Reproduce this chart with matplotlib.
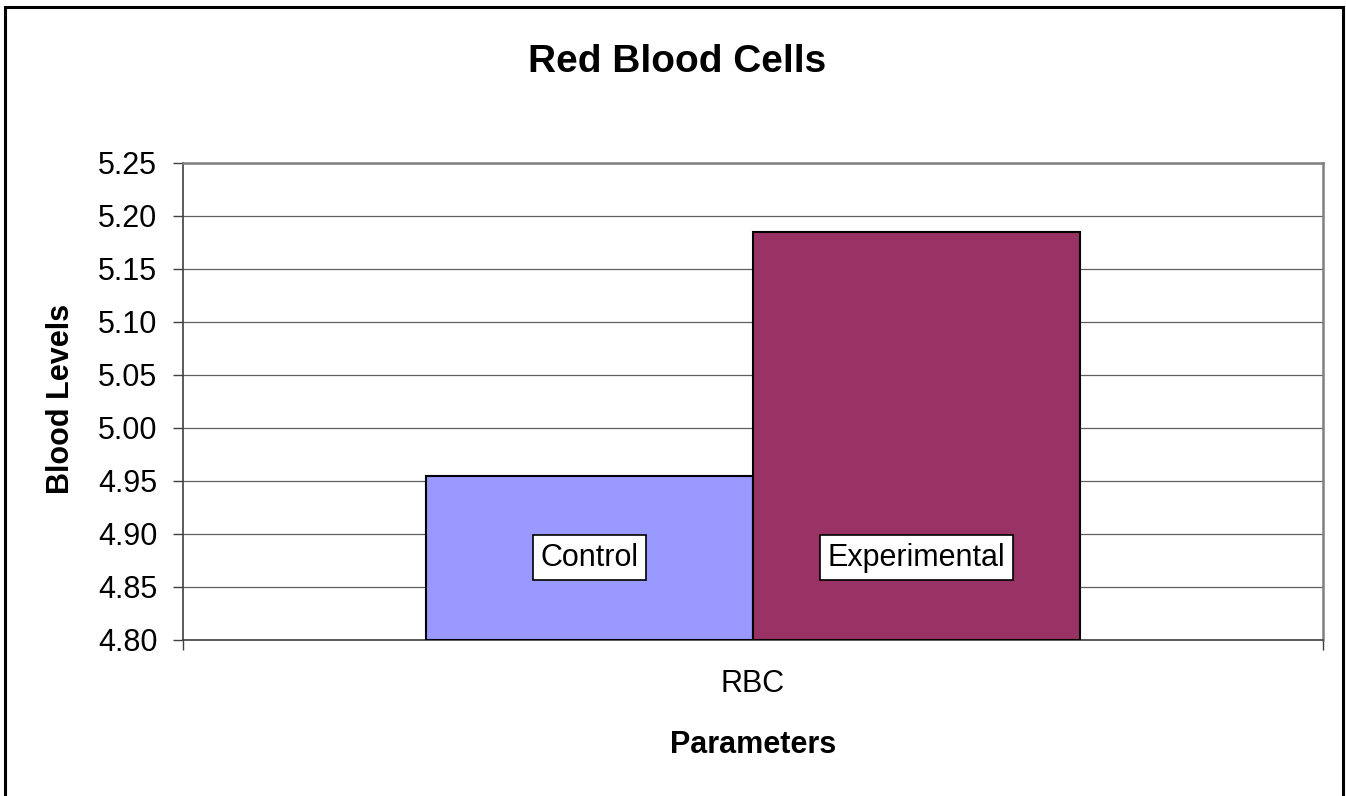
"""Red Blood Cells: Control vs Experimental bar chart (Excel style)."""

import matplotlib

matplotlib.use("Agg")
import matplotlib.pyplot as plt  # noqa: E402
from matplotlib.patches import Rectangle  # noqa: E402

plt.rcParams["font.family"] = ["Liberation Sans", "DejaVu Sans"]

# data
categories = ["RBC"]
series_names = ["Control", "Experimental"]
series_values = [4.955, 5.185]
series_colors = ["#9999FF", "#993366"]
y_ticks = [4.80, 4.85, 4.90, 4.95, 5.00, 5.05, 5.10, 5.15, 5.20, 5.25]

W, H = 1346, 796
fig = plt.figure(figsize=(W / 100, H / 100), dpi=100)
ax = fig.add_axes([183 / W, 1 - 640 / H, 1140 / W, 477.3 / H])

bar_w = 0.287
offsets = [-bar_w / 2, bar_w / 2]
ymin, ymax = y_ticks[0], y_ticks[-1]
label_y = (ymin + min(series_values)) / 2

for name, val, col, off in zip(series_names, series_values, series_colors, offsets):
    ax.bar(off, val - ymin, bottom=ymin, width=bar_w, color=col,
           edgecolor="black", linewidth=1.5, zorder=3)
    ax.text(off, label_y, name, ha="center", va="center", fontsize=22,
            zorder=4,
            bbox=dict(boxstyle="square,pad=0.25", fc="white", ec="black", lw=1.2))

ax.set_xlim(-0.5, 0.5)
ax.set_ylim(ymin, ymax)
ax.set_yticks(y_ticks)
ax.set_yticklabels([f"{t:.2f}" for t in y_ticks], fontsize=22)
ax.yaxis.grid(True, color="#606060", lw=0.9, zorder=0)
ax.set_axisbelow(True)

# category boundaries get the ticks, the name sits in the middle
ax.set_xticks([-0.5, 0.5])
ax.set_xticklabels(["", ""])
ax.set_xticks([0], minor=True)
ax.set_xticklabels(categories, minor=True, fontsize=22)
ax.tick_params(axis="x", which="major", length=7.5, width=1, color="#404040", direction="out")
ax.tick_params(axis="x", which="minor", length=0, pad=21)
ax.tick_params(axis="y", length=7.5, width=1, color="#404040", pad=11, direction="out")

for side in ("top", "right"):
    ax.spines[side].set_color("#808080")
    ax.spines[side].set_linewidth(1.8)
for side in ("left", "bottom"):
    ax.spines[side].set_color("#404040")
    ax.spines[side].set_linewidth(1.2)

fig.text(677 / W, 1 - 71.7 / H, "Red Blood Cells", ha="center", va="baseline",
         fontsize=28, fontweight="bold")
fig.text(753 / W, 1 - 753 / H, "Parameters", ha="center", va="baseline",
         fontsize=22, fontweight="bold")
fig.text(61 / W, 1 - 399 / H, "Blood Levels", ha="center", va="center",
         rotation=90, fontsize=22, fontweight="bold")

# outer chart frame
fig.patches.append(Rectangle((5 / W, -0.02), 1338 / W, 1.02 - 7 / H,
                             transform=fig.transFigure, fill=False,
                             ec="black", lw=2.2))

fig.savefig("out.png", dpi=100)
